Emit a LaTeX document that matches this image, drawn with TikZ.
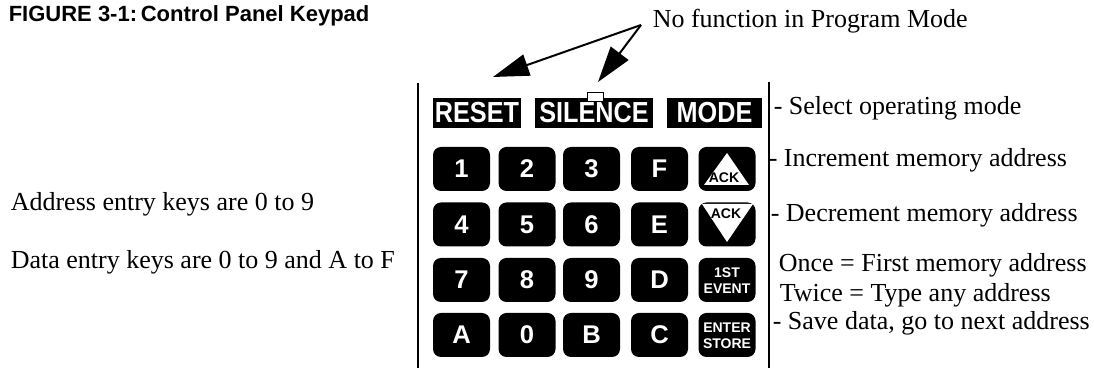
\documentclass[tikz,border=0pt]{standalone}
\usepackage{fontspec}
\setmainfont{Liberation Serif}
\setsansfont{Liberation Sans}
\usepackage{graphicx}
\usepackage{tikz}
\usetikzlibrary{arrows.meta}
\newcommand{\squeeze}[1]{\scalebox{0.87}[1]{#1}}

\begin{document}
\begin{tikzpicture}[x=0.5pt, y=-0.5pt, thick,
    keycap/.style={fill=black, rounded corners=4pt, minimum width=28.5pt, minimum height=22pt, inner sep=0pt, text=white, font=\sffamily\bfseries\fontsize{12.8}{12.8}\selectfont},
    modekey/.style={fill=black, minimum height=15pt, inner sep=0pt, text=white, font=\sffamily\bfseries\fontsize{14.5}{14.5}\selectfont},
    smalllbl/.style={inner sep=0pt, align=center, font=\sffamily\bfseries\fontsize{7}{8}\selectfont},
    note/.style={anchor=base west, inner sep=0pt, font=\fontsize{13}{15}\selectfont},
    callout/.style={-{Triangle[length=18pt,width=11pt]}, line width=1pt}]
            \useasboundingbox (0,0) rectangle (1094,368);

            % Title
            \node[anchor=base west, inner sep=0pt, font=\sffamily\bfseries\fontsize{11}{13}\selectfont] (title) at (8,22) {FIGURE 3-1:\,Control Panel Keypad};

            % Panel edges
            \coordinate (lefttop) at (418,83);
            \coordinate (leftbot) at (418,368);
            \coordinate (righttop) at (769,82);
            \coordinate (rightbot) at (769,368);
            \draw[line width=0.75pt] (lefttop) -- (leftbot);
            \draw[line width=0.75pt] (righttop) -- (rightbot);

            % Top row
            \node[modekey, minimum width=44pt] (reset) at (477,113) {\squeeze{RESET}};
            \node[modekey, minimum width=59pt] (silence) at (594,113) {\squeeze{SILENCE}};
            \node[modekey, minimum width=47.5pt] (mode) at (714.5,113) {\squeeze{MODE}};
            \node[draw=black, fill=white, line width=0.5pt, minimum width=8pt, minimum height=4.5pt, inner sep=0pt] (led) at (595,97.5) {};

            % Keypad
            \node[keycap] (k1) at (461.5,169) {1};
            \node[keycap] (k2) at (527,169) {2};
            \node[keycap] (k3) at (591.5,169) {3};
            \node[keycap] (kf) at (659.5,169) {F};
            \node[keycap] (ackup) at (727,169) {};
            \node[keycap] (k4) at (461.5,224.5) {4};
            \node[keycap] (k5) at (527,224.5) {5};
            \node[keycap] (k6) at (591.5,224.5) {6};
            \node[keycap] (ke) at (659.5,224.5) {E};
            \node[keycap] (ackdown) at (727,224.5) {};
            \node[keycap] (k7) at (461.5,280) {7};
            \node[keycap] (k8) at (527,280) {8};
            \node[keycap] (k9) at (591.5,280) {9};
            \node[keycap] (kd) at (659.5,280) {D};
            \node[keycap] (event) at (727,280) {};
            \node[keycap] (ka) at (461.5,335) {A};
            \node[keycap] (k0) at (527,335) {0};
            \node[keycap] (kb) at (591.5,335) {B};
            \node[keycap] (kc) at (659.5,335) {C};
            \node[keycap] (enter) at (727,335) {};

            % Key faces
            \fill[white] (727,153) -- (749,185) -- (704,185) -- cycle;
            \node[smalllbl] (ackuplbl) at (724,178) {ACK};
            \fill[white] (702,204) -- (753,204) -- (727,242) -- cycle;
            \node[smalllbl] (ackdownlbl) at (726,214) {ACK};
            \node[smalllbl, text=white] (eventlbl) at (727,281) {1ST\\EVENT};
            \node[smalllbl, text=white] (enterlbl) at (727,335.5) {ENTER\\STORE};

            % Callout
            \node[note] (nofn) at (652,28) {No function in Program Mode};
            \coordinate (fork) at (641,25);
            \coordinate (resettip) at (493,77);
            \coordinate (silencetip) at (598,82);
            \draw[callout] (fork) -- (resettip);
            \draw[callout] (fork) -- (silencetip);

            % Right notes
            \node[note] (modenote) at (773,115) {- Select operating mode};
            \node[note] (incnote) at (768,167) {- Increment memory address};
            \node[note] (decnote) at (770,222) {- Decrement memory address};
            \node[note] (oncenote) at (778,272) {Once = First memory address};
            \node[note] (twicenote) at (779,302) {Twice = Type any address};
            \node[note] (savenote) at (772,330) {- Save data, go to next address};

            % Left notes
            \node[note] (addrnote) at (10,211) {Address entry keys are 0 to 9};
            \node[note] (datanote) at (10,269) {Data entry keys are 0 to 9 and A to F};
        \end{tikzpicture}
\end{document}
